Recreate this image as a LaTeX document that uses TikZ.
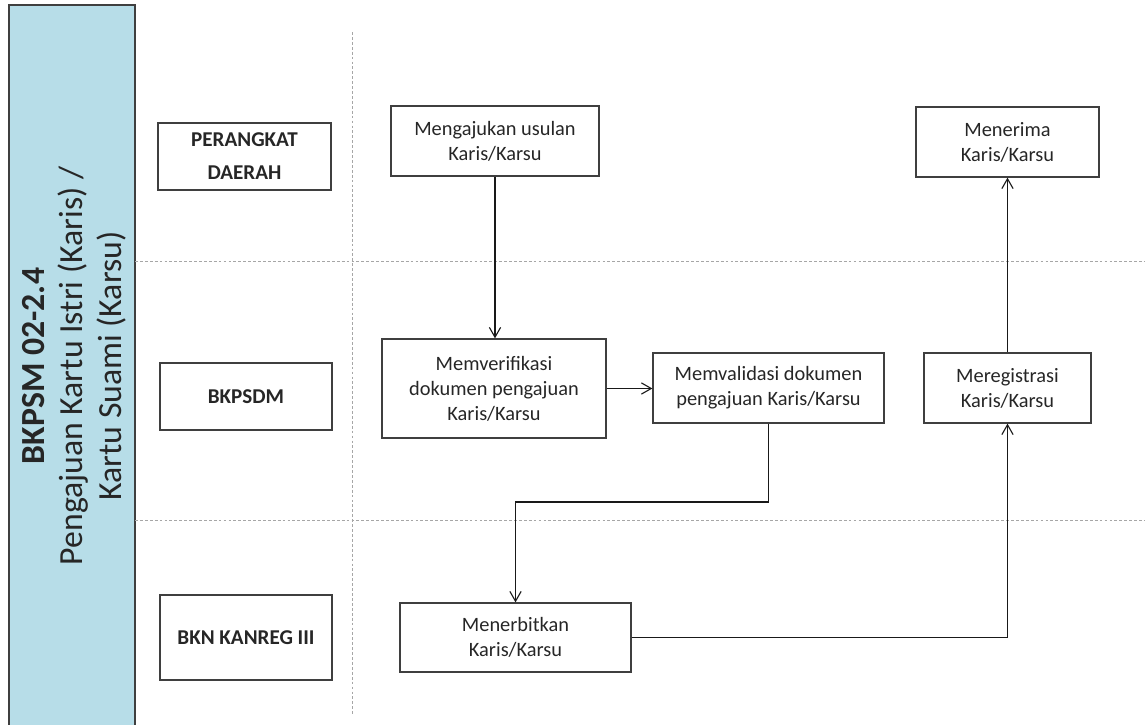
\documentclass[tikz,border=0pt]{standalone}
\usepackage{fontspec}
\setmainfont{Carlito}
\usetikzlibrary{arrows.meta}

\definecolor{bandblau}{HTML}{B7DDE8}
\definecolor{rand}{HTML}{3F3F3F}
\definecolor{schrift}{HTML}{262626}

\begin{document}
\begin{tikzpicture}[x=0.025cm,y=-0.025cm,
  >={Straight Barb[length=7pt,width=8pt]},
  kasten/.style={draw=rand,line width=0.9pt,inner sep=0pt,align=center,
    text=schrift,font=\fontsize{14.5}{17.8}\selectfont},
  bahn/.style={kasten,font=\bfseries\fontsize{15}{23.5}\selectfont},
  pfeil/.style={->,line width=0.8pt,draw=black!90},
  trenn/.style={draw=gray!70,line width=0.6pt,dash pattern=on 2pt off 1.5pt}]

\useasboundingbox (0,0) rectangle (1145,724);

% Band links
\fill[bandblau] (9,5) rectangle (135,730);
\draw[rand,line width=0.9pt] (9,730) -- (9,5) -- (135,5) -- (135,730);
\node[rotate=90,align=center,text=schrift,
  font=\fontsize{24}{27.5}\selectfont] (titel) at (74,366)
  {\textbf{BKPSM 02-2.4}\\Pengajuan Kartu Istri (Karis) /\\Kartu Suami (Karsu)};

% Trennlinien
\draw[trenn] (352,32) -- (352,715);
\draw[trenn] (135,261) -- (1145,261);
\draw[trenn] (135,520) -- (1145,520);

% Bahnen
\node[bahn,minimum width=4.325cm,minimum height=1.675cm] (perangkat) at (244.5,156.5) {PERANGKAT\\DAERAH};
\node[bahn,minimum width=4.3cm,minimum height=1.675cm] (bkpsdm) at (246,396.5) {BKPSDM};
\node[bahn,minimum width=4.3cm,minimum height=2.125cm] (bkn) at (246,637.5) {BKN KANREG III};

% Schritte
\node[kasten,minimum width=5.2cm,minimum height=1.75cm] (ajukan) at (495,141) {Mengajukan usulan\\Karis/Karsu};
\node[kasten,minimum width=5.6cm,minimum height=2.475cm] (verifikasi) at (494,388.5) {Memverifikasi\\dokumen pengajuan\\Karis/Karsu};
\node[kasten,minimum width=5.775cm,minimum height=1.75cm] (validasi) at (768.5,388) {Memvalidasi dokumen\\pengajuan Karis/Karsu};
\node[kasten,minimum width=5.775cm,minimum height=1.725cm] (terbitkan) at (515.5,637.5) {Menerbitkan\\Karis/Karsu};
\node[kasten,minimum width=4.175cm,minimum height=1.75cm] (registrasi) at (1007.5,388) {Meregistrasi\\Karis/Karsu};
\node[kasten,minimum width=4.575cm,minimum height=1.75cm] (menerima) at (1007.5,142) {Menerima\\Karis/Karsu};

\coordinate (knick) at (640,502);

\draw[pfeil] (ajukan.south) -- (ajukan.south |- verifikasi.north);
\draw[pfeil] (verifikasi.east) -- (verifikasi.east -| validasi.west);
\draw[pfeil] (validasi.south) |- (knick) -| (terbitkan.north);
\draw[pfeil] (terbitkan.east) -| (registrasi.south);
\draw[pfeil] (registrasi.north) -- (menerima.south);

\end{tikzpicture}
\end{document}
